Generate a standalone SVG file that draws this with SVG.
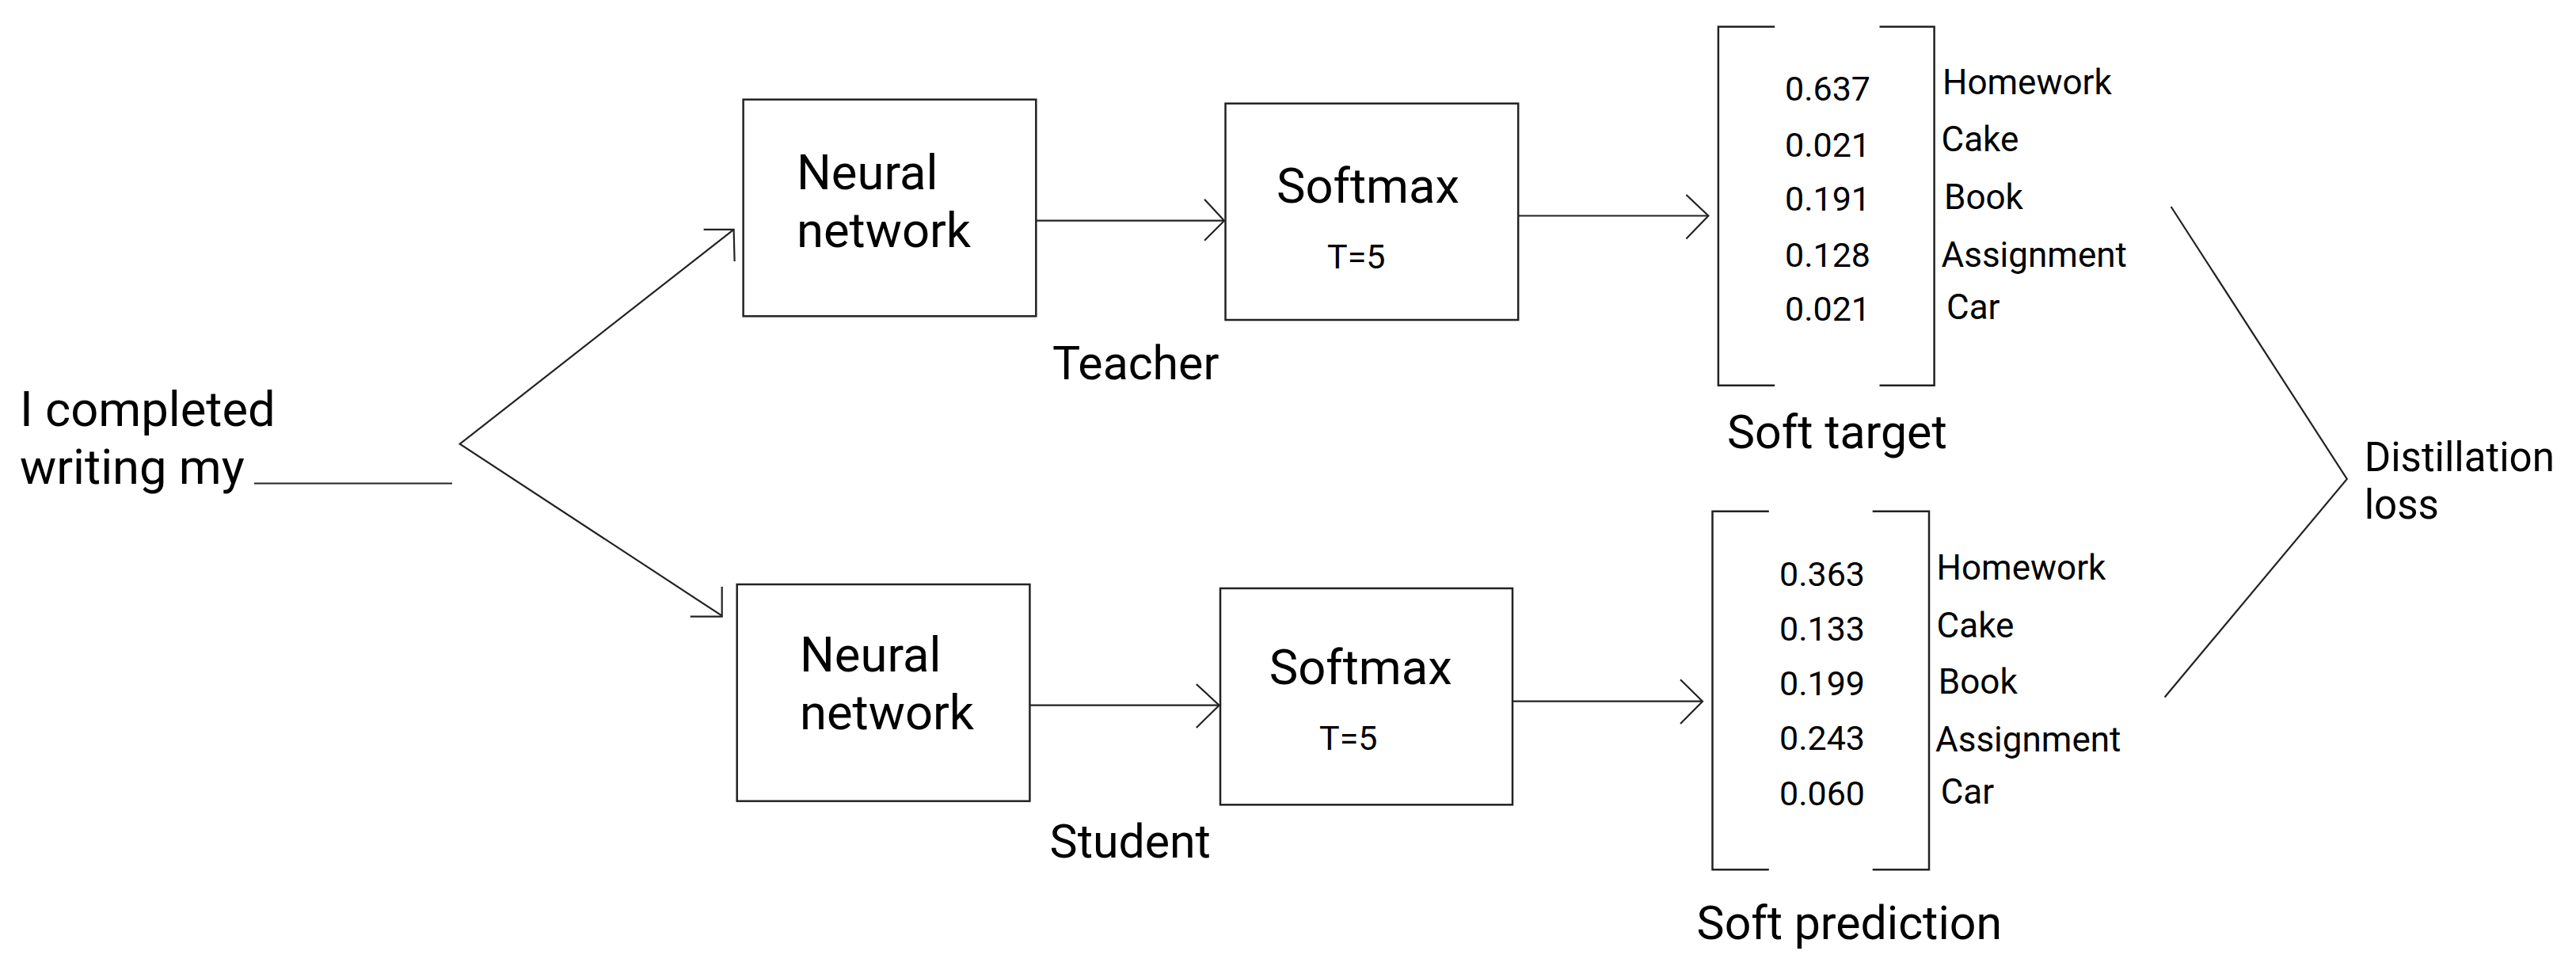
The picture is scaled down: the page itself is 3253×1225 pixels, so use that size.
<svg xmlns="http://www.w3.org/2000/svg" width="3253" height="1225" viewBox="0 0 3253 1225">
<style>
text{font-family:Roboto,"Liberation Sans",sans-serif;fill:#000}
.big{font-size:61.5px}
.lbl{font-size:59px}
.sm{font-size:43px}
.nm{font-size:44px}
.t5{font-size:43px}
.dl{font-size:51px}
.box{fill:#fff;stroke:#222;stroke-width:2.5}
.ln{fill:none;stroke:#222;stroke-width:2.2}
.br{fill:none;stroke:#222;stroke-width:2.5}
</style>
<rect width="3253" height="1225" fill="#fff"/>
<g id="input">
<text class="big" x="25" y="538">I completed</text>
<text class="big" x="25" y="611">writing my</text>
</g>
<g id="connectors">
<line class="ln" x1="321" y1="610.5" x2="571" y2="610.5"/>
<polyline class="ln" points="926.6,289.8 580.7,560.7 911.7,777.7"/>
<polyline class="ln" points="888.6,289.8 926.6,289.8 927.6,330"/>
<polyline class="ln" points="871.7,778.7 911.7,778.7 911.7,741"/>
<line class="ln" x1="1308" y1="278.7" x2="1546" y2="278.7"/>
<polyline class="ln" points="1521,251.7 1546,278.7 1521,303.7"/>
<line class="ln" x1="1917" y1="272.5" x2="2157" y2="272.5"/>
<polyline class="ln" points="2129.4,246 2157.4,272.5 2129.4,301.6"/>
<line class="ln" x1="1300.4" y1="890.7" x2="1539.6" y2="890.7"/>
<polyline class="ln" points="1510.8,864 1539.6,890.7 1510.8,919"/>
<line class="ln" x1="1910" y1="885.7" x2="2150" y2="885.7"/>
<polyline class="ln" points="2122,858.3 2150,885.7 2122,914"/>
<polyline class="ln" points="2741.6,261 2963.8,605 2733.6,880.5"/>
</g>
<g id="teacher-nn">
<rect class="box" x="938.6" y="125.7" width="369.7" height="273.6"/>
<text class="big" x="1006" y="239">Neural</text>
<text class="big" x="1006" y="312">network</text>
</g>
<g id="teacher-softmax">
<rect class="box" x="1547.5" y="130.7" width="369.7" height="273.3"/>
<text class="big" x="1612" y="256">Softmax</text>
<text class="t5" x="1676" y="339">T=5</text>
</g>
<g id="teacher-label">
<text class="lbl" x="1329" y="479">Teacher</text>
</g>
<g id="soft-target">
<polyline class="br" points="2241.2,33.7 2169.9,33.7 2169.9,486.8 2241.2,486.8"/>
<polyline class="br" points="2373.5,33.7 2442.6,33.7 2442.6,486.8 2373.5,486.8"/>
<text class="sm" x="2254" y="127.4">0.637</text>
<text class="sm" x="2254" y="198.2">0.021</text>
<text class="sm" x="2254" y="266">0.191</text>
<text class="sm" x="2254" y="336.8">0.128</text>
<text class="sm" x="2254" y="404.9">0.021</text>
<text class="nm" x="2453" y="119.4">Homework</text>
<text class="nm" x="2451.5" y="191.4">Cake</text>
<text class="nm" x="2455" y="264">Book</text>
<text class="nm" x="2451.5" y="336.8">Assignment</text>
<text class="nm" x="2458" y="403">Car</text>
<text class="lbl" x="2181" y="566.4">Soft target</text>
</g>
<g id="student-nn">
<rect class="box" x="930.7" y="738" width="369.7" height="273.7"/>
<text class="big" x="1010" y="847.7">Neural</text>
<text class="big" x="1010" y="921">network</text>
</g>
<g id="student-softmax">
<rect class="box" x="1541" y="743" width="369" height="273.3"/>
<text class="big" x="1602.7" y="864.3">Softmax</text>
<text class="t5" x="1666" y="946.7">T=5</text>
</g>
<g id="student-label">
<text class="lbl" x="1325.6" y="1083.3">Student</text>
</g>
<g id="soft-prediction">
<polyline class="br" points="2233.8,645.8 2162.5,645.8 2162.5,1098.2 2233.8,1098.2"/>
<polyline class="br" points="2364.7,645.8 2436,645.8 2436,1098.2 2364.7,1098.2"/>
<text class="sm" x="2247" y="740.3">0.363</text>
<text class="sm" x="2247" y="809.2">0.133</text>
<text class="sm" x="2247" y="877.8">0.199</text>
<text class="sm" x="2247" y="946.7">0.243</text>
<text class="sm" x="2247" y="1016.5">0.060</text>
<text class="nm" x="2445.6" y="731.5">Homework</text>
<text class="nm" x="2445.6" y="805.3">Cake</text>
<text class="nm" x="2447.8" y="875.8">Book</text>
<text class="nm" x="2444" y="948.7">Assignment</text>
<text class="nm" x="2450.7" y="1014.5">Car</text>
<text class="lbl" x="2142.6" y="1186">Soft prediction</text>
</g>
<g id="distillation-loss">
<text class="dl" x="2985.7" y="595">Distillation</text>
<text class="dl" x="2985.7" y="655">loss</text>
</g>
</svg>
